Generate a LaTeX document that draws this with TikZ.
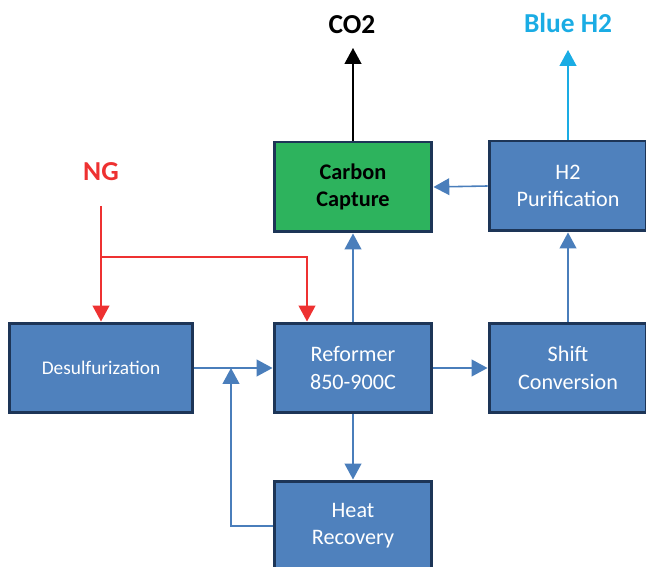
\documentclass[tikz,border=0pt]{standalone}
\usepackage{fontspec}
\setmainfont{Carlito}
\usetikzlibrary{%
  arrows,%
  arrows.meta,%
  positioning,% wg. " of "
  calc
}
\definecolor{boxblue}{HTML}{4F81BD}
\definecolor{boxedge}{HTML}{1D3557}
\definecolor{flowblue}{HTML}{4A7EBB}
\definecolor{capgreen}{HTML}{2DB35D}
\definecolor{ngred}{HTML}{EE3131}
\definecolor{hblue}{HTML}{1AACE4}

\begin{document}
\begin{tikzpicture}[
  x=0.02cm, y=-0.02cm, >={Triangle[length=9pt,width=9.5pt]},
  stagebox/.style={draw=boxedge, fill=boxblue, line width=1.7pt, text=white,
    minimum width=3.16cm, minimum height=1.8cm, align=center,
    font=\fontsize{12.6}{15.5}\selectfont},
  flow/.style={->, draw=flowblue, line width=0.9pt},
  streamtext/.style={font=\fontsize{15.6}{18}\selectfont\bfseries}
]

\useasboundingbox (0,0) rectangle (646,567);

% process units
\node[stagebox, minimum width=3.68cm, font=\fontsize{11}{13}\selectfont] (desulf) at (101,368) {Desulfurization};
\node[stagebox] (reformer) at (353,368) {Reformer\\850-900C};
\node[stagebox] (shift) at (568,368) {Shift\\Conversion};
\node[stagebox] (heat) at (353,526) {Heat\\Recovery};
\node[stagebox] (purif) at (568,186) {H2\\Purification};
\node[stagebox, fill=capgreen, text=black, font=\fontsize{12.7}{15.5}\selectfont\bfseries] (capture) at (353,187) {Carbon\\Capture};

% streams in and out
\node[streamtext, text=ngred] (ng) at (101,172) {NG};
\node[streamtext, text=black] (co2) at (352,25) {CO2};
\node[streamtext, text=hblue] (blueh2) at (568,23) {Blue H2};
\coordinate (ngin) at (101,206);
\coordinate (ngsplit) at (101,257);
\coordinate (co2out) at (353,48);
\coordinate (h2out) at (568,50);
\coordinate (mix) at (231,368);

\draw[->, ngred, line width=0.9pt] (ngin) -- (desulf.north);
\draw[->, ngred, line width=0.9pt] (ngsplit) -| ([xshift=-0.92cm]reformer.north);

\draw[->, black, line width=0.9pt] (capture.north) -- (co2out);
\draw[->, hblue, line width=0.9pt] (purif.north) -- (h2out);

% main train
\draw[flow] (desulf.east) -- (reformer.west);
\draw[flow] (reformer.east) -- (shift.west);
\draw[flow] (reformer.south) -- (heat.north);
\draw[flow] (reformer.north) -- (capture.south);
\draw[flow] (shift.north) -- (purif.south);
\draw[flow] (purif.west) -- (capture.east);
\draw[flow] (heat.west) -| (mix);

\end{tikzpicture}
\end{document}
